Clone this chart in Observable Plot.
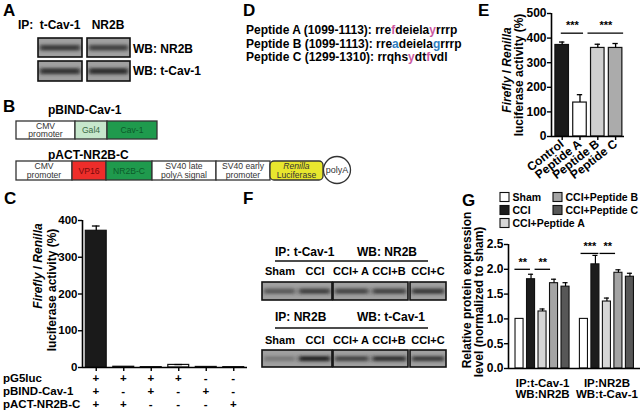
<!DOCTYPE html>
<html><head><meta charset="utf-8">
<script src="https://cdn.jsdelivr.net/npm/d3@7"></script>
<script src="https://cdn.jsdelivr.net/npm/@observablehq/plot@0.6"></script>
<style>
body{margin:0;background:#fff;}
#fig{position:relative;width:640px;height:411px;overflow:hidden;background:#fff;}
#fig svg{position:absolute;}
</style></head><body><div id="fig"></div>
<script>
// ---------- DATA ----------
// Panel C
const cValues = [372, 2, 1, 7, 1.5, 1];
const cErrors = [13, 0, 0, 1, 0, 0];
const cRows = ["pG5luc", "pBIND-Cav-1", "pACT-NR2B-C"];
const cSigns = [
  ["+", "+", "+", "+", "-", "-"],
  ["+", "-", "+", "-", "+", "-"],
  ["+", "+", "-", "-", "-", "+"]
];
const cTicks = [0, 100, 200, 300, 400];
// Panel E
const eCategories = ["Control", "Peptide A", "Peptide B", "Peptide C"];
const eValues = [372, 138, 360, 360];
const eErrors = [12, 32, 15, 18];
const eColors = ["#1a1a1a", "#ffffff", "#cfcfcf", "#ababab"];
const eTicks = [0, 100, 200, 300, 400, 500];
const eSigLabels = ["***", "***"];
const eSigFrom = [-0.05, 1.45];
const eSigTo = [1.2, 3.45];
const eSigLevel = [420, 420];
// Panel G
const gGroups = ["IP:t-Cav-1\nWB:NR2B", "IP:NR2B\nWB:t-Cav-1"];
const gTreatments = ["Sham", "CCI", "CCI+Peptide A", "CCI+Peptide B", "CCI+Peptide C"];
const gColors = ["#ffffff", "#1c1c1c", "#d6d6d6", "#a4a4a4", "#575757"];
const gValues = [[1.0, 1.80, 1.15, 1.72, 1.65], [1.0, 2.10, 1.35, 1.93, 1.85]];
const gErrors = [[0, 0.10, 0.05, 0.08, 0.08], [0, 0.18, 0.07, 0.06, 0.07]];
const gTicks = [0, 0.5, 1.0, 1.5, 2.0, 2.5];
const gSigLabels = ["**", "**", "***", "**"];
const gSigGroup = [0, 0, 1, 1];
const gSigFrom = [-0.4, 1.35, -0.25, 1.4];
const gSigTo = [0.95, 2.7, 1.3, 2.75];
const gSigLevel = [2.0, 2.0, 2.32, 2.32];
// Panel D
const peptideNames = ["Peptide A (1099-1113): ", "Peptide B (1099-1113): ", "Peptide C (1299-1310): "];
const peptideSeqs = ["rrefdeielayrrrp", "rreadeielagrrrp", "rrqhsydtfvdl"];
const peptideMarked = [[3, 10], [3, 10], [5, 8]];
const peptideMarkColor = ["#cc5aa2", "#2f7dc0", "#cc5aa2"];
// Blot band intensities
const blotA = [[0.8, 0.75], [0.85, 0.9]];
const fLanes = ["Sham", "CCI", "CCI+ A", "CCI+B", "CCI+C"];
const blotF = [[0.55, 0.75, 0.7, 0.72, 0.8], [0.3, 1.0, 0.72, 0.88, 0.8]];

const FONT = '"Liberation Sans", Arial, Helvetica, sans-serif';
const fig = d3.select("#fig");
const baseStyle = {background: "transparent", fontFamily: FONT, fontSize: "12px", fontWeight: "bold", color: "black", maxWidth: "none", overflow: "visible"};
function place(chart, left, top) {
  chart.style.left = left + "px"; chart.style.top = top + "px";
  fig.node().appendChild(chart); return chart;
}

// ---------- Panel C ----------
const cData = cValues.map((v, i) => ({i, v, e: cErrors[i]}));
const cHalf = 0.38;
const chartC = Plot.plot({
  width: 250, height: 172, marginLeft: 82, marginRight: 3, marginTop: 20, marginBottom: 5,
  x: {domain: [-0.5, 5.5]},
  y: {domain: [0, 400]},
  style: {...baseStyle, fontSize: "11.5px"},
  marks: [
    Plot.rect(cData, {x1: d => d.i - cHalf, x2: d => d.i + cHalf, y1: 0, y2: "v",
      fill: d => d.i === 0 ? "#1a1a1a" : "#ffffff", stroke: "#111", strokeWidth: 1.2}),
    Plot.ruleX(cData.filter(d => d.e > 0), {x: "i", y1: "v", y2: d => d.v + d.e, strokeWidth: 1.3}),
    Plot.ruleY(cData.filter(d => d.e > 0), {x1: d => d.i - 0.14, x2: d => d.i + 0.14, y: d => d.v + d.e, strokeWidth: 1.3}),
    Plot.ruleY([0], {strokeWidth: 1.6}),
    Plot.ruleX([-0.5], {y1: 0, y2: 400, strokeWidth: 1.6}),
    Plot.axisY({ticks: cTicks, tickSize: 4, tickPadding: 1, strokeWidth: 1.4, label: null}),
    Plot.axisX({ticks: d3.range(6), tickSize: 4, tickFormat: () => "", strokeWidth: 1.4, label: null})
  ]
});
place(chartC, 0, 200);

// ---------- Panel E ----------
const eData = eValues.map((v, i) => ({i, v, e: eErrors[i], fill: eColors[i]}));
const eSig = eSigLabels.map((s, k) => ({s, x1: eSigFrom[k], x2: eSigTo[k], y: eSigLevel[k]}));
const eHalf = 0.38;
const chartE = Plot.plot({
  width: 170, height: 192, marginLeft: 81, marginRight: 16, marginTop: 13, marginBottom: 56,
  x: {domain: [-0.6, 3.5]},
  y: {domain: [0, 500]},
  style: {...baseStyle},
  marks: [
    Plot.rect(eData, {x1: d => d.i - eHalf, x2: d => d.i + eHalf, y1: 0, y2: "v", fill: "fill", stroke: "#111", strokeWidth: 1.2}),
    Plot.ruleX(eData, {x: "i", y1: "v", y2: d => d.v + d.e, strokeWidth: 1.3}),
    Plot.ruleY(eData, {x1: d => d.i - 0.15, x2: d => d.i + 0.15, y: d => d.v + d.e, strokeWidth: 1.3}),
    Plot.ruleY(eSig, {x1: "x1", x2: "x2", y: "y", strokeWidth: 1.3}),
    Plot.text(eSig, {x: d => (d.x1 + d.x2) / 2, y: "y", text: "s", dy: -4, lineAnchor: "bottom", fontSize: 11}),
    Plot.ruleY([0], {strokeWidth: 1.6}),
    Plot.ruleX([-0.6], {y1: 0, y2: 500, strokeWidth: 1.6}),
    Plot.axisY({ticks: eTicks, tickSize: 4, tickPadding: 1, strokeWidth: 1.4, label: null}),
    Plot.axisX({ticks: d3.range(4), tickSize: 4, tickPadding: 2, tickRotate: -38, tickFormat: i => eCategories[i], strokeWidth: 1.4, label: null})
  ]
});
place(chartE, 470, 0);

// ---------- Panel G ----------
const gOffset = 5.6;
const gData = [];
gValues.forEach((row, g) => row.forEach((v, t) => gData.push({x: g * gOffset + t, v, e: gErrors[g][t], fill: gColors[t]})));
const gSig = gSigLabels.map((s, k) => ({s, x1: gSigGroup[k] * gOffset + gSigFrom[k], x2: gSigGroup[k] * gOffset + gSigTo[k], y: gSigLevel[k]}));
const gHalf = 0.35;
const chartG = Plot.plot({
  width: 185, height: 172, marginLeft: 53, marginRight: 0, marginTop: 14, marginBottom: 34,
  x: {domain: [-0.96, 10.52]},
  y: {domain: [0, 2.5]},
  style: {...baseStyle},
  marks: [
    Plot.rect(gData, {x1: d => d.x - gHalf, x2: d => d.x + gHalf, y1: 0, y2: "v", fill: "fill", stroke: "#111", strokeWidth: 1.1}),
    Plot.ruleX(gData.filter(d => d.e > 0), {x: "x", y1: "v", y2: d => d.v + d.e, strokeWidth: 1.2}),
    Plot.ruleY(gData.filter(d => d.e > 0), {x1: d => d.x - 0.22, x2: d => d.x + 0.22, y: d => d.v + d.e, strokeWidth: 1.2}),
    Plot.ruleY(gSig, {x1: "x1", x2: "x2", y: "y", strokeWidth: 1.3}),
    Plot.text(gSig, {x: d => (d.x1 + d.x2) / 2, y: "y", text: "s", dy: -3, lineAnchor: "bottom", fontSize: 11}),
    Plot.ruleY([0], {strokeWidth: 1.6}),
    Plot.ruleX([-0.96], {y1: 0, y2: 2.5, strokeWidth: 1.6}),
    Plot.axisY({ticks: gTicks, tickSize: 4, tickPadding: 1, tickFormat: d3.format(".1f"), strokeWidth: 1.4, label: null}),
    Plot.axisX({ticks: [2, gOffset + 2], tickSize: 0, tickPadding: 10, tickFormat: (d, k) => gGroups[k], fontSize: 11.5, label: null})
  ]
});
place(chartG, 455, 230);

// ---------- Overlay (labels, diagrams, blots) ----------
const svg = fig.append("svg").attr("width", 640).attr("height", 411).style("left", "0px").style("top", "0px")
  .attr("font-family", FONT).attr("font-weight", "bold").attr("font-size", 12);
const defs = svg.append("defs");
defs.append("filter").attr("id", "blur").attr("x", "-20%").attr("y", "-100%").attr("width", "140%").attr("height", "300%")
  .append("feGaussianBlur").attr("stdDeviation", "2.2 1.6");

function text(x, y, s, o = {}) {
  const t = svg.append("text").attr("x", x).attr("y", y).attr("dominant-baseline", "central")
    .attr("text-anchor", o.anchor || "start").text(s);
  if (o.size) t.attr("font-size", o.size);
  if (o.weight) t.attr("font-weight", o.weight);
  if (o.fill) t.attr("fill", o.fill);
  if (o.italic) t.attr("font-style", "italic");
  return t;
}

// panel letters
[["A", 3, 10], ["B", 3, 106], ["C", 4, 198], ["D", 243, 10], ["E", 478, 10], ["F", 243, 198], ["G", 462, 200]]
  .forEach(([s, x, y]) => text(x, y, s, {size: 17}));

// rotated two-line y labels
function yLabel(x1, y1, x2, y2, second) {
  const t1 = svg.append("text").attr("transform", `translate(${x1},${y1}) rotate(-90)`).attr("text-anchor", "middle").attr("dominant-baseline", "central");
  t1.append("tspan").attr("font-style", "italic").text("Firefly");
  t1.append("tspan").text(" / ");
  t1.append("tspan").attr("font-style", "italic").text("Renilla");
  svg.append("text").attr("transform", `translate(${x2},${y2}) rotate(-90)`).attr("text-anchor", "middle").attr("dominant-baseline", "central").text(second);
}
yLabel(38, 266, 52, 290, "luciferase activity (%)");
yLabel(507, 70, 519, 75, "luciferase activity (%)");
svg.append("text").attr("transform", "translate(467,290) rotate(-90)").attr("text-anchor", "middle").attr("dominant-baseline", "central").text("Relative protein expression");
svg.append("text").attr("transform", "translate(479,302) rotate(-90)").attr("text-anchor", "middle").attr("dominant-baseline", "central").text("level (normalized to sham)");

// Panel C sign table
const xC = chartC.scale("x");
const rowY = [378, 391, 404];
cRows.forEach((r, k) => {
  text(3, rowY[k], r, {size: 11.5});
  cSigns[k].forEach((s, i) => text(xC.apply(i), rowY[k], s, {anchor: "middle", size: 11.5}));
});

// Panel G legend
const legendPos = [[500, 197], [500, 210], [500, 223], [553, 197], [553, 210]];
gTreatments.forEach((t, k) => {
  const [x, y] = legendPos[k];
  svg.append("rect").attr("x", x).attr("y", y - 4.5).attr("width", 9).attr("height", 9).attr("fill", gColors[k]).attr("stroke", "#111").attr("stroke-width", 1.1);
  text(x + 12.5, y, t, {size: 10.5});
});

// Panel D peptides
peptideNames.forEach((n, k) => {
  const t = svg.append("text").attr("x", 246).attr("y", 30 + k * 13.5).attr("dominant-baseline", "central");
  t.append("tspan").text(n);
  [...peptideSeqs[k]].forEach((ch, j) => {
    const sp = t.append("tspan").text(ch);
    if (peptideMarked[k].includes(j)) sp.attr("fill", peptideMarkColor[k]);
  });
});

// Blots
function blot(x, y, w, h, lanes) {
  const g = svg.append("g");
  const id = "clip" + Math.round(x) + "_" + Math.round(y);
  defs.append("clipPath").attr("id", id).append("rect").attr("x", x).attr("y", y).attr("width", w).attr("height", h);
  g.append("rect").attr("x", x).attr("y", y).attr("width", w).attr("height", h).attr("fill", "#a0a0a0");
  const lw = w / lanes.length;
  const gg = g.append("g").attr("clip-path", `url(#${id})`);
  lanes.forEach((a, i) => {
    gg.append("rect").attr("x", x + i * lw + 2).attr("y", y + h * 0.36).attr("width", lw - 4).attr("height", h * 0.3)
      .attr("fill", "#222").attr("opacity", a).attr("filter", "url(#blur)");
  });
  g.append("rect").attr("x", x).attr("y", y).attr("width", w).attr("height", h).attr("fill", "none").attr("stroke", "#111").attr("stroke-width", 1.6);
}
// Panel A
text(18, 25, "IP:");
text(60, 25, "t-Cav-1", {anchor: "middle"});
text(108, 25, "NR2B", {anchor: "middle"});
blot(38, 38, 44, 19, [blotA[0][0]]);
blot(87, 38, 43, 19, [blotA[0][1]]);
blot(38, 61, 44, 20, [blotA[1][0]]);
blot(87, 61, 43, 20, [blotA[1][1]]);
text(133, 48.5, "WB: NR2B");
text(133, 71, "WB: t-Cav-1");

// Panel F
const fBoxes = [[262, 70, [0, 1]], [333, 75, [2, 3]], [410, 36, [4]]];
const fLaneX = [280, 315, 351, 389, 428];
[[252, 261, 271, 282, 18, "IP: t-Cav-1", "WB: NR2B", 0], [317, 328, 340, 350, 17, "IP: NR2B", "WB: t-Cav-1", 1]].forEach(([hy, ry, ly, by, bh, ip, wb, r]) => {
  text(275, hy, ip);
  text(357, hy, wb);
  svg.append("line").attr("x1", 275).attr("x2", 428).attr("y1", ry).attr("y2", ry).attr("stroke", "#111").attr("stroke-width", 1.6);
  fLanes.forEach((l, i) => text(fLaneX[i], ly, l, {anchor: "middle", size: 11}));
  fBoxes.forEach(([bx, bw, idx]) => blot(bx, by, bw, bh, idx.map(i => blotF[r][i])));
});

// Panel B diagram
text(48, 110, "pBIND-Cav-1");
text(48, 155, "pACT-NR2B-C");
const row1 = [["CMV\npromoter", 16, 59, "#ffffff", "#333"], ["Gal4", 75, 32, "#c6e7cc", "#3a6b45"], ["Cav-1", 107, 50, "#1f9a4d", "#0c5a2a"]];
const row2 = [["CMV\npromoter", 16, 56, "#ffffff", "#333"], ["VP16", 72, 34, "#ee2d2a", "#7a0a0a"], ["NR2B-C", 106, 46, "#1f9a4d", "#0c5a2a"],
  ["SV40 late\npolyA signal", 152, 64, "#ffffff", "#333"], ["SV40 early\npromoter", 216, 54, "#ffffff", "#333"]];
function segs(list, y, h) {
  list.forEach(([lab, x, w, fill, tc]) => {
    svg.append("rect").attr("x", x).attr("y", y).attr("width", w).attr("height", h).attr("fill", fill).attr("stroke", "#333").attr("stroke-width", 1.3);
    const lines = lab.split("\n");
    lines.forEach((ln, k) => text(x + w / 2, y + h / 2 + (k - (lines.length - 1) / 2) * 8.6, ln, {anchor: "middle", size: 8.6, weight: "normal", fill: tc}));
  });
}
segs(row1, 121, 18);
segs(row2, 161, 19);
svg.append("rect").attr("x", 270).attr("y", 161).attr("width", 53).attr("height", 19).attr("rx", 4).attr("fill", "#e8e62e").attr("stroke", "#333").attr("stroke-width", 1.3);
text(296.5, 166.2, "Renilla", {anchor: "middle", size: 8.6, weight: "normal", italic: true, fill: "#333"});
text(296.5, 174.8, "Luciferase", {anchor: "middle", size: 8.6, weight: "normal", fill: "#333"});
svg.append("circle").attr("cx", 337).attr("cy", 170).attr("r", 13.5).attr("fill", "#fff").attr("stroke", "#333").attr("stroke-width", 1.3);
text(337, 170, "polyA", {anchor: "middle", size: 9, weight: "normal", fill: "#333"});
</script></body></html>
